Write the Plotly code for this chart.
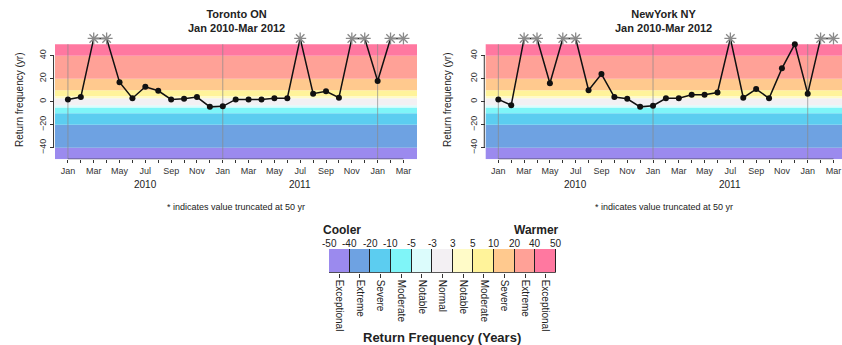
import plotly.graph_objects as go

# month index 0 = Jan 2010 ... 26 = Mar 2012
months = list(range(27))
month_names = ["Jan", "Feb", "Mar", "Apr", "May", "Jun", "Jul", "Aug", "Sep", "Oct", "Nov", "Dec"]
years = ["2010", "2011"]

# return frequency (yr); None = truncated at 50 yr (drawn as an asterisk)
toronto = [2, 4, None, None, 17, 3, 13, 9.5, 2, 2.5, 4, -4.5, -4,
           2, 2, 2, 3, 3, None, 7, 9, 3.5, None, None, 18, None, None]
newyork = [2, -3, None, None, 16, None, None, 10, 24, 4, 2.5, -4.5, -3.5,
           3, 3, 6, 6, 8, None, 3.5, 11, 3, 29, 50, 7, None, None]
trunc_level = 55

band_edges = [-50, -40, -20, -10, -5, -3, 3, 5, 10, 20, 40, 50]
band_colors = ["#9b8aee", "#6ea2e2", "#5ccdf0", "#7ff5f8", "#dcfcfc", "#f3f0f3",
               "#fffbc8", "#fff39a", "#ffc98e", "#ffa197", "#ff78a0"]
band_names = ["Exceptional", "Extreme", "Severe", "Moderate", "Notable", "Normal",
              "Notable", "Moderate", "Severe", "Extreme", "Exceptional"]

panels = [
    {"name": "Toronto ON", "vals": toronto, "x": "x", "y": "y",
     "dom": [55 / 842, 417 / 842], "rng": [-1.0, 27.05]},
    {"name": "NewYork NY", "vals": newyork, "x": "x2", "y": "y2",
     "dom": [485.7 / 842, 1.0], "rng": [-0.98, 26.66]},
]

fig = go.Figure()
shapes = []
annotations = []
ydom = [1 - 159.2 / 345, 1 - 35 / 345]
font = "Liberation Sans, Arial, sans-serif"


def note(text, x, y, size, xref="paper", **kw):
    d = dict(text=text, xref=xref, yref="paper", x=x, y=1 - y / 345, showarrow=False,
             xanchor="center", yanchor="middle", font=dict(size=size, color="#222222"))
    d.update(kw)
    return d


for i, p in enumerate(panels):
    xr, yr = p["x"], p["y"]
    plot_y = [v if v is not None else trunc_level for v in p["vals"]]
    fig.add_trace(go.Scatter(x=months, y=plot_y, mode="lines", xaxis=xr, yaxis=yr,
                             line=dict(color="#111111", width=1.5), showlegend=False))
    fig.add_trace(go.Scatter(x=[m for m, v in zip(months, p["vals"]) if v is not None],
                             y=[v for v in p["vals"] if v is not None],
                             mode="markers", xaxis=xr, yaxis=yr, showlegend=False,
                             marker=dict(color="#111111", size=6)))
    fig.add_trace(go.Scatter(x=[m for m, v in zip(months, p["vals"]) if v is None],
                             y=[trunc_level for v in p["vals"] if v is None],
                             mode="markers", xaxis=xr, yaxis=yr, showlegend=False,
                             cliponaxis=False,
                             marker=dict(symbol="asterisk-open", size=10, color="#8a8a8a",
                                         line=dict(color="#8a8a8a", width=1.3))))
    xref_dom = xr + " domain"
    for j, c in enumerate(band_colors):
        shapes.append(dict(type="rect", xref=xref_dom, yref=yr, x0=0, x1=1,
                           y0=band_edges[j], y1=band_edges[j + 1], fillcolor=c,
                           line=dict(width=0), layer="below"))
    for jan in [0, 12, 24]:
        shapes.append(dict(type="line", xref=xr, yref=yr, x0=jan, x1=jan, y0=-50, y1=50,
                           line=dict(color="#8a8a8a", width=0.7), layer="below"))
    # R-style axis lines
    shapes.append(dict(type="line", xref=xr, yref=yr, x0=0, x1=26, y0=-50, y1=-50,
                       line=dict(color="#333333", width=1)))
    shapes.append(dict(type="line", xref=xref_dom, yref=yr, x0=-0.004, x1=-0.004,
                       y0=-40, y1=40, line=dict(color="#333333", width=1)))

    cx = (p["dom"][0] + p["dom"][1]) / 2 if i == 0 else (485.7 + 842) / 2 / 842
    annotations.append(note("<b>" + p["name"] + "<br>Jan 2010-Mar 2012</b>", cx, 21, 11))
    annotations.append(note("Return frequency (yr)", (20 if i == 0 else 448) / 842, 100, 10,
                            textangle=-90))
    annotations.append(note("* indicates value truncated at 50 yr", cx, 207, 9))
    for k, yl in enumerate(years):
        annotations.append(note(yl, 6 + 12 * k, 184, 10, xref=xr))

    tick_text = [month_names[m % 12] if m % 2 == 0 else "" for m in months]
    ax = dict(domain=p["dom"], range=p["rng"], tickvals=months, ticktext=tick_text,
              ticks="outside", ticklen=3, tickcolor="#333333", showgrid=False,
              zeroline=False, showline=False, tickangle=0, automargin=False,
              tickfont=dict(size=9, color="#333333"), anchor=yr)
    ay = dict(domain=ydom, range=[-50, 58], tickvals=[-40, -20, 0, 20, 40],
              ticks="outside", ticklen=4, tickcolor="#333333", showgrid=False,
              zeroline=False, showline=False, tickangle=-90, automargin=False,
              tickfont=dict(size=9, color="#333333"), anchor=xr)
    if i == 0:
        fig.update_layout(xaxis=ax, yaxis=ay)
    else:
        fig.update_layout(xaxis2=ax, yaxis2=ay)

# color key
fig.add_trace(go.Bar(x=list(range(11)), y=[1] * 11, width=1, xaxis="x3", yaxis="y3",
                     marker=dict(color=band_colors, line=dict(color="#222222", width=1)),
                     showlegend=False, hoverinfo="skip"))
fig.update_layout(
    xaxis3=dict(domain=[329 / 842, 556 / 842], range=[-0.5, 10.5], anchor="y3",
                tickvals=list(range(11)), ticktext=band_names, tickangle=90,
                ticks="outside", ticklen=4, tickcolor="#333333", showgrid=False,
                zeroline=False, showline=False, automargin=False,
                tickfont=dict(size=10, color="#222222")),
    yaxis3=dict(domain=[1 - 272.7 / 345, 1 - 249 / 345], range=[0, 1], anchor="x3",
                visible=False, automargin=False),
)
for j, e in enumerate(band_edges):
    annotations.append(note(str(e), j - 0.5, 243.5, 10, xref="x3"))
annotations.append(note("<b>Cooler</b>", 321 / 842, 229.5, 12, xanchor="left"))
annotations.append(note("<b>Warmer</b>", 561 / 842, 229.5, 12, xanchor="right"))
annotations.append(note("<b>Return Frequency (Years)</b>", 442 / 842, 337, 13))

fig.update_layout(width=842, height=345, margin=dict(l=0, r=0, t=0, b=0),
                  paper_bgcolor="white", plot_bgcolor="rgba(0,0,0,0)",
                  font=dict(family=font), shapes=shapes, annotations=annotations,
                  bargap=0)
fig.write_html("out.html", config={"displayModeBar": False},
               post_script="document.body.style.margin='0';")
